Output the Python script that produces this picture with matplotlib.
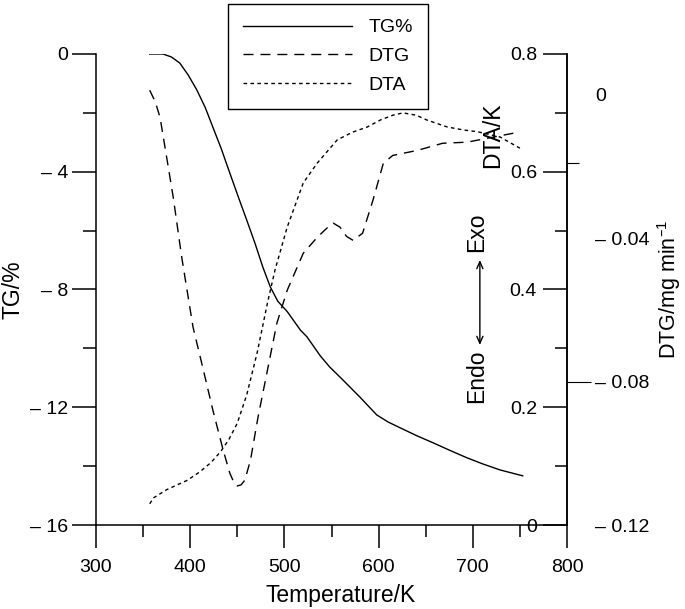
import matplotlib
matplotlib.use("Agg")
import matplotlib.pyplot as plt
from matplotlib.ticker import FixedLocator, MultipleLocator

plt.rcParams['font.family'] = ['Liberation Sans', 'DejaVu Sans']
plt.rcParams['mathtext.default'] = 'regular'
plt.rcParams['lines.scale_dashes'] = False

# ---------------- data ----------------
tg_T = [357, 371, 380, 389, 398, 407, 416, 424, 433, 442, 451, 460, 469, 477, 485,
        493, 503, 517, 524, 538, 548, 562, 580, 598, 610, 623, 640, 658, 676, 694, 711, 729, 753]
tg_v = [0.0, 0.0, -0.10, -0.31, -0.72, -1.22, -1.82, -2.48, -3.22, -4.04, -4.85, -5.64,
        -6.45, -7.23, -7.91, -8.40, -8.75, -9.38, -9.61, -10.25, -10.63, -11.07, -11.65,
        -12.26, -12.50, -12.70, -12.96, -13.21, -13.47, -13.72, -13.93, -14.13, -14.33]

dtg_T = [357, 363, 368, 375, 382, 391, 403, 414, 424, 435, 442, 447, 450, 454, 458, 464,
         472, 482, 492, 503, 520, 535, 545, 552, 559, 566, 573, 583, 594, 605, 615, 641,
         668, 694, 743]
dtg_v = [0.0013, -0.0020, -0.0063, -0.0174, -0.0286, -0.0453, -0.0648, -0.0768, -0.0879,
         -0.0991, -0.1055, -0.1085, -0.1091, -0.1088, -0.1075, -0.1019, -0.0899, -0.0768,
         -0.0637, -0.0545, -0.0442, -0.0397, -0.0372, -0.0358, -0.0369, -0.0395, -0.0406,
         -0.0386, -0.0294, -0.0191, -0.0169, -0.0155, -0.0135, -0.0132, -0.0107]

dta_T = [357, 361, 375, 397, 410, 422, 432, 441, 450, 460, 471, 482, 490, 503, 520, 535,
         556, 572, 588, 602, 615, 626, 640, 651, 673, 690, 705, 729, 750]
dta_v = [0.036, 0.046, 0.060, 0.076, 0.090, 0.106, 0.124, 0.145, 0.173, 0.221, 0.292,
         0.377, 0.433, 0.506, 0.581, 0.615, 0.654, 0.667, 0.676, 0.688, 0.696, 0.700,
         0.696, 0.688, 0.676, 0.671, 0.668, 0.659, 0.640]

x_ticks = [300, 400, 500, 600, 700, 800]
tg_ticks = [0, -4, -8, -12, -16]
tg_ticklabels = ['0', '\u2013 4', '\u2013 8', '\u2013 12', '\u2013 16']
dta_ticks = [0, 0.2, 0.4, 0.6, 0.8]
dta_ticklabels = ['0', '0.2', '0.4', '0.6', '0.8']
dtg_ticks = [0, -0.04, -0.08, -0.12]
dtg_ticklabels = ['0', '\u2013 0.04', '\u2013 0.08', '\u2013 0.12']
legend_labels = ['TG%', 'DTG', 'DTA']

# ---------------- figure ----------------
PX = 0.72  # points per pixel at dpi 100
fig = plt.figure(figsize=(6.85, 6.09), dpi=100)
ax = fig.add_axes([96 / 685, 1 - 525 / 609, 471 / 685, 471 / 609])

FS = 14      # tick labels / legend
LFS = 16.5   # axis labels
lw = 1.0

# TG axis
l1, = ax.plot(tg_T, tg_v, color='black', lw=lw, ls='-')
ax.set_xlim(300, 800)
ax.set_ylim(-16, 0)
ax.spines['top'].set_visible(False)
for s in ['left', 'bottom', 'right']:
    ax.spines[s].set_linewidth(1.1)
ax.set_xticks(x_ticks)
ax.xaxis.set_minor_locator(MultipleLocator(50))
ax.set_yticks(tg_ticks)
ax.set_yticklabels(tg_ticklabels)
ax.yaxis.set_minor_locator(MultipleLocator(2))
ax.tick_params(axis='x', which='major', direction='out', length=23 * PX, width=1.1,
               pad=11 * PX, labelsize=FS)
ax.tick_params(axis='x', which='minor', direction='out', length=12 * PX, width=1.1)
ax.tick_params(axis='y', which='major', direction='out', length=24 * PX, width=1.1,
               pad=4 * PX, labelsize=FS)
ax.tick_params(axis='y', which='minor', direction='out', length=13 * PX, width=1.1)
ax.tick_params(right=False, which='both')
ax.set_xlabel('Temperature/K', fontsize=LFS)
ax.xaxis.set_label_coords(0.52, -0.126)
ax.set_ylabel('TG/%', fontsize=LFS)
ax.yaxis.set_label_coords(-0.151, 0.5)

# DTA axis: its left spine moved to the right edge
ax2 = ax.twinx()
l3, = ax2.plot(dta_T, dta_v, color='black', lw=lw, ls=(0, (2.6, 2.4)))
ax2.set_ylim(0, 0.8)
ax2.spines['left'].set_position(('axes', 1.0))
ax2.spines['left'].set_visible(True)
ax2.spines['left'].set_linewidth(1.1)
for s in ['right', 'top', 'bottom']:
    ax2.spines[s].set_visible(False)
ax2.yaxis.tick_left()
ax2.yaxis.set_label_position('left')
ax2.set_yticks(dta_ticks)
ax2.set_yticklabels(dta_ticklabels)
ax2.yaxis.set_minor_locator(MultipleLocator(0.1))
ax2.tick_params(axis='y', which='major', direction='out', length=24 * PX, width=1.1,
                pad=6 * PX, labelsize=FS)
ax2.tick_params(axis='y', which='minor', direction='out', length=12 * PX, width=1.1)
ax2.set_ylabel('DTA/K', fontsize=LFS)
ax2.yaxis.set_label_coords(0.866, 0.828)

# DTG axis
ax3 = ax.twinx()
l2, = ax3.plot(dtg_T, dtg_v, color='black', lw=lw, ls=(0, (7.2, 5.0)))
ax3.set_ylim(-0.12, 0.0114)
for s in ['left', 'right', 'top', 'bottom']:
    ax3.spines[s].set_visible(False)
ax3.set_yticks(dtg_ticks)
ax3.set_yticklabels(dtg_ticklabels)
ax3.yaxis.remove_overlapping_locs = False
ax3.yaxis.set_minor_locator(FixedLocator([-0.08, -0.019]))
ax3.tick_params(axis='y', which='major', length=0, pad=28 * PX, labelsize=FS)
ax3.tick_params(axis='y', which='minor', direction='out', length=24 * PX, width=0.8)
ax3.set_ylabel('DTG/mg min$^{\u20131}$', fontsize=15.5)
ax3.yaxis.set_label_coords(1.188, 0.5)

# Endo / Exo
ax.text(0.809, 0.622, 'Exo', transform=ax.transAxes, rotation=90, ha='center',
        va='center', fontsize=LFS)
ax.text(0.809, 0.316, 'Endo', transform=ax.transAxes, rotation=90, ha='center',
        va='center', fontsize=LFS)
ax.annotate('', xy=(0.815, 0.5626), xytext=(0.815, 0.3822), xycoords='axes fraction',
            textcoords='axes fraction',
            arrowprops=dict(arrowstyle='<->,head_length=0.5,head_width=0.22',
                            color='black', lw=1.0, shrinkA=0, shrinkB=0))

# Legend
leg = ax3.legend([l1, l2, l3], legend_labels, loc='upper left',
                 bbox_to_anchor=(228 / 685, 1 - 4 / 609), bbox_transform=fig.transFigure,
                 frameon=True, fancybox=False, edgecolor='black', framealpha=1,
                 handlelength=5.6, handletextpad=0.88, borderpad=0.76, labelspacing=0.57,
                 borderaxespad=0, fontsize=FS)
leg.get_frame().set_linewidth(1.0)

fig.canvas.draw()
for t in ax3.yaxis.get_minor_ticks():
    if abs(t.get_loc() + 0.019) < 1e-6:
        t.tick2line.set_markersize(12 * PX)
        t.tick2line.set_color('gray')

fig.savefig('out.png', dpi=100)
